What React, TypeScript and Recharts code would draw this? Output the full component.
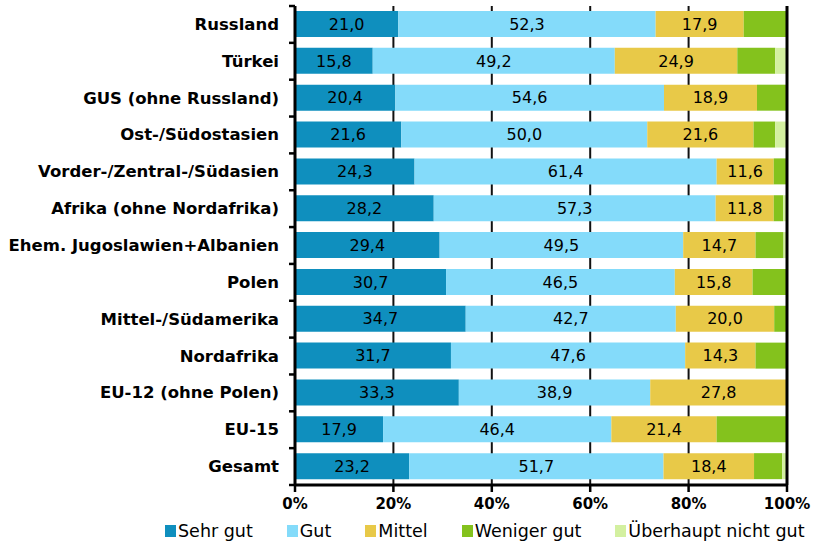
import React from 'react';
import { BarChart, Bar, XAxis, YAxis, CartesianGrid, LabelList, Legend, ReferenceLine } from 'recharts';

const categories = [
  'Russland', 'Türkei', 'GUS (ohne Russland)', 'Ost-/Südostasien', 'Vorder-/Zentral-/Südasien',
  'Afrika (ohne Nordafrika)', 'Ehem. Jugoslawien+Albanien', 'Polen', 'Mittel-/Südamerika',
  'Nordafrika', 'EU-12 (ohne Polen)', 'EU-15', 'Gesamt',
];
const sehrGut = [21.0, 15.8, 20.4, 21.6, 24.3, 28.2, 29.4, 30.7, 34.7, 31.7, 33.3, 17.9, 23.2];
const gut = [52.3, 49.2, 54.6, 50.0, 61.4, 57.3, 49.5, 46.5, 42.7, 47.6, 38.9, 46.4, 51.7];
const mittel = [17.9, 24.9, 18.9, 21.6, 11.6, 11.8, 14.7, 15.8, 20.0, 14.3, 27.8, 21.4, 18.4];
const wenigerGut = [8.8, 7.7, 6.1, 4.4, 2.7, 1.9, 5.7, 7.0, 2.6, 6.4, 0.0, 14.3, 5.7];
const nichtGut = [0.0, 2.4, 0.0, 2.4, 0.0, 0.8, 0.7, 0.0, 0.0, 0.0, 0.0, 0.0, 1.0];
const xTicks = [0, 20, 40, 60, 80, 100];

const seriesNames = ['Sehr gut', 'Gut', 'Mittel', 'Weniger gut', 'Überhaupt nicht gut'];
const seriesKeys = ['sehrGut', 'gut', 'mittel', 'wenigerGut', 'nichtGut'];
const colors = ['#0f8fbe', '#84dbfa', '#e8c948', '#84c21d', '#d3f0a0'];

const data = categories.map((c, i) => ({
  name: c,
  sehrGut: sehrGut[i],
  gut: gut[i],
  mittel: mittel[i],
  wenigerGut: wenigerGut[i],
  nichtGut: nichtGut[i],
}));

const W = 813;
const H = 544;
const M = { top: 6, right: 26, left: 0, bottom: 1 };
const LEGEND_H = 28;
const XAXIS_H = 30;
const PLOT_H = H - M.top - M.bottom - LEGEND_H - XAXIS_H;
const BAND = PLOT_H / categories.length;
const FONT = '"DejaVu Sans", "Liberation Sans", Arial, sans-serif';

const fmt = (v: any) => (typeof v === 'number' ? v.toFixed(1).replace('.', ',') : v);

const CatTick = (props: any) => {
  const { x, y, payload, index } = props;
  const ax = x + 16;
  return (
    <g>
      <text x={x} y={y} textAnchor="end" dominantBaseline="central" fontFamily={FONT} fontWeight="bold" fontSize={16.5} fill="#000">
        {payload.value}
      </text>
      <line x1={ax - 6} x2={ax} y1={y - BAND / 2} y2={y - BAND / 2} stroke="#000" strokeWidth={2.5} />
      {index === categories.length - 1 && (
        <line x1={ax - 6} x2={ax} y1={y + BAND / 2} y2={y + BAND / 2} stroke="#000" strokeWidth={2.5} />
      )}
    </g>
  );
};

const LegendContent = () => (
  <div style={{ display: 'flex', alignItems: 'center', fontFamily: FONT, fontSize: 17.5, color: '#000', whiteSpace: 'nowrap' }}>
    {seriesNames.map((n, i) => (
      <div key={n} style={{ display: 'flex', alignItems: 'center', marginRight: 34 }}>
        <span style={{ display: 'inline-block', width: 11, height: 12, background: colors[i], marginRight: 2 }} />
        <span>{n}</span>
      </div>
    ))}
  </div>
);

export default function App() {
  return (
    <div style={{ position: 'absolute', left: 0, top: 0, width: W, height: H, background: '#fff' }}>
      <BarChart width={W} height={H} data={data} layout="vertical" margin={M} barSize={26}>
        <CartesianGrid horizontal={false} vertical={true} stroke="#111" strokeWidth={2} strokeDasharray="0" />
        <XAxis
          type="number"
          domain={[0, 100]}
          ticks={xTicks}
          tickFormatter={(v: number) => `${v}%`}
          height={XAXIS_H}
          axisLine={{ stroke: '#000', strokeWidth: 3 }}
          tickLine={{ stroke: '#000', strokeWidth: 2.5 }}
          tickSize={7}
          tickMargin={6}
          tick={{ fill: '#000', fontFamily: FONT, fontWeight: 'bold', fontSize: 15 }}
          interval={0}
        />
        <YAxis
          type="category"
          dataKey="name"
          width={295}
          axisLine={{ stroke: '#000', strokeWidth: 3 }}
          tickLine={false}
          tickSize={0}
          tickMargin={16}
          tick={<CatTick />}
          interval={0}
        />
        <Legend
          verticalAlign="bottom"
          height={LEGEND_H}
          content={<LegendContent />}
          wrapperStyle={{ left: 165, top: 521, width: 660 }}
        />
        {seriesKeys.map((k, i) => (
          <Bar key={k} dataKey={k} name={seriesNames[i]} stackId="a" fill={colors[i]} isAnimationActive={false}>
            {i < 3 && (
              <LabelList dataKey={k} position="center" formatter={fmt} fill="#000" fontSize={16} fontFamily={FONT} />
            )}
          </Bar>
        ))}
        <ReferenceLine x={100} stroke="#000" strokeWidth={3} />
      </BarChart>
    </div>
  );
}
